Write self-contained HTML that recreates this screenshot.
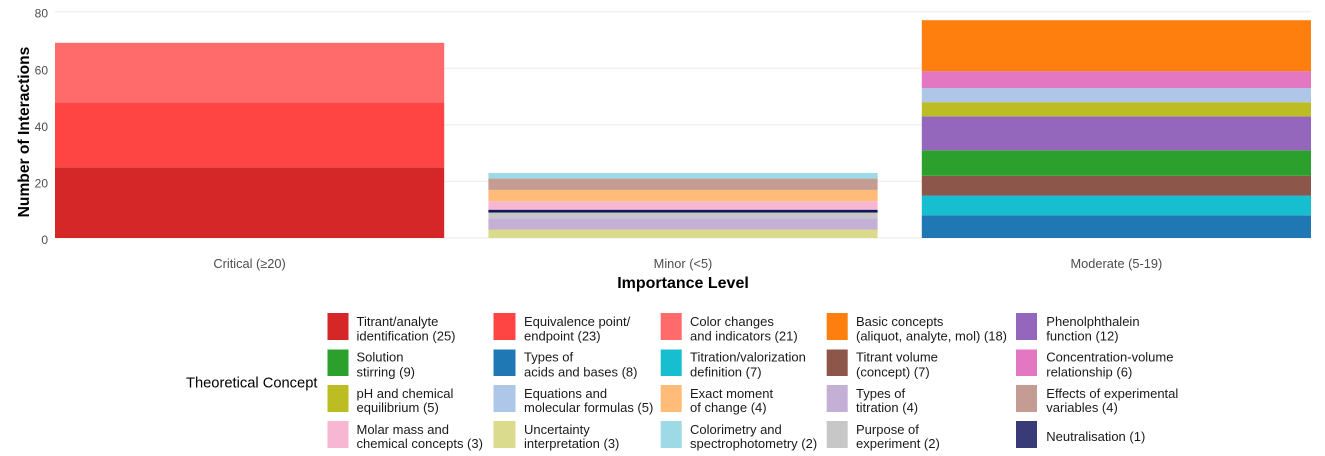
<!DOCTYPE html>
<html lang="en">
<head>
<meta charset="utf-8">
<title>Interactions by Importance Level</title>
<style>
html,body{margin:0;padding:0;background:#fff;width:1325px;height:456px;overflow:hidden}
svg{display:block;font-family:"Liberation Sans",Arial,sans-serif}
.lg{font-size:13px;fill:#1a1a1a}
</style>
</head>
<body>
<svg id="chart" width="1325" height="456" viewBox="0 0 1325 456" xmlns="http://www.w3.org/2000/svg">
  <g id="grid"></g>
  <g id="bars"></g>
  <g id="ticks"></g>
  <text transform="translate(29,132) rotate(-90)" text-anchor="middle" font-size="15.6" font-weight="700" fill="#000">Number of Interactions</text>
  <text x="683" y="288" text-anchor="middle" font-size="16" font-weight="700" fill="#000">Importance Level</text>
  <g>
    <text x="186" y="387.5" font-size="14.7" fill="#000">Theoretical Concept</text>

    <g><rect x="327.5" y="313" width="21" height="27" fill="#d62728"/><text class="lg"><tspan x="356.5" y="326">Titrant/analyte</tspan><tspan x="356.5" y="340.5">identification (25)</tspan></text></g>
    <g><rect x="493.5" y="313" width="22" height="27" fill="#ff4444"/><text class="lg"><tspan x="524" y="326">Equivalence point/</tspan><tspan x="524" y="340.5">endpoint (23)</tspan></text></g>
    <g><rect x="660.7" y="313" width="21" height="27" fill="#ff6b6b"/><text class="lg"><tspan x="690" y="326">Color changes</tspan><tspan x="690" y="340.5">and indicators (21)</tspan></text></g>
    <g><rect x="826.7" y="313" width="21" height="27" fill="#ff7f0e"/><text class="lg"><tspan x="856" y="326">Basic concepts</tspan><tspan x="856" y="340.5">(aliquot, analyte, mol) (18)</tspan></text></g>
    <g><rect x="1016" y="313" width="21" height="27" fill="#9467bd"/><text class="lg"><tspan x="1046.3" y="326">Phenolphthalein</tspan><tspan x="1046.3" y="340.5">function (12)</tspan></text></g>

    <g><rect x="327.5" y="349.5" width="21" height="26.5" fill="#2ca02c"/><text class="lg"><tspan x="356.5" y="361.5">Solution</tspan><tspan x="356.5" y="376.5">stirring (9)</tspan></text></g>
    <g><rect x="493.5" y="349.5" width="22" height="26.5" fill="#1f77b4"/><text class="lg"><tspan x="524" y="361.5">Types of</tspan><tspan x="524" y="376.5">acids and bases (8)</tspan></text></g>
    <g><rect x="660.7" y="349.5" width="21" height="26.5" fill="#17becf"/><text class="lg"><tspan x="690" y="361.5">Titration/valorization</tspan><tspan x="690" y="376.5">definition (7)</tspan></text></g>
    <g><rect x="826.7" y="349.5" width="21" height="26.5" fill="#8c564b"/><text class="lg"><tspan x="856" y="361.5">Titrant volume</tspan><tspan x="856" y="376.5">(concept) (7)</tspan></text></g>
    <g><rect x="1016" y="349.5" width="21" height="26.5" fill="#e377c2"/><text class="lg"><tspan x="1046.3" y="361.5">Concentration-volume</tspan><tspan x="1046.3" y="376.5">relationship (6)</tspan></text></g>

    <g><rect x="327.5" y="385" width="21" height="27" fill="#bcbd22"/><text class="lg"><tspan x="356.5" y="398">pH and chemical</tspan><tspan x="356.5" y="412">equilibrium (5)</tspan></text></g>
    <g><rect x="493.5" y="385" width="22" height="27" fill="#aec7e8"/><text class="lg"><tspan x="524" y="398">Equations and</tspan><tspan x="524" y="412">molecular formulas (5)</tspan></text></g>
    <g><rect x="660.7" y="385" width="21" height="27" fill="#ffbb78"/><text class="lg"><tspan x="690" y="398">Exact moment</tspan><tspan x="690" y="412">of change (4)</tspan></text></g>
    <g><rect x="826.7" y="385" width="21" height="27" fill="#c5b0d5"/><text class="lg"><tspan x="856" y="398">Types of</tspan><tspan x="856" y="412">titration (4)</tspan></text></g>
    <g><rect x="1016" y="385" width="21" height="27" fill="#c49c94"/><text class="lg"><tspan x="1046.3" y="398">Effects of experimental</tspan><tspan x="1046.3" y="412">variables (4)</tspan></text></g>

    <g><rect x="327.5" y="421" width="21" height="27" fill="#f7b6d2"/><text class="lg"><tspan x="356.5" y="434">Molar mass and</tspan><tspan x="356.5" y="448">chemical concepts (3)</tspan></text></g>
    <g><rect x="493.5" y="421" width="22" height="27" fill="#dbdb8d"/><text class="lg"><tspan x="524" y="434">Uncertainty</tspan><tspan x="524" y="448">interpretation (3)</tspan></text></g>
    <g><rect x="660.7" y="421" width="21" height="27" fill="#9edae5"/><text class="lg"><tspan x="690" y="434">Colorimetry and</tspan><tspan x="690" y="448">spectrophotometry (2)</tspan></text></g>
    <g><rect x="826.7" y="421" width="21" height="27" fill="#c7c7c7"/><text class="lg"><tspan x="856" y="434">Purpose of</tspan><tspan x="856" y="448">experiment (2)</tspan></text></g>
    <g><rect x="1016" y="421" width="21" height="27" fill="#393b79"/><text class="lg" x="1046.3" y="441">Neutralisation (1)</text></g>
  </g>
</svg>
<script>
const categories = ['Critical (≥20)', 'Minor (<5)', 'Moderate (5-19)'];
const yTickValues = [0, 20, 40, 60, 80];

const criticalConcepts = ['titrant-analyte', 'equivalence-point', 'color-changes'];
const criticalValues = [25, 23, 21];

const minorConcepts = ['uncertainty', 'types-titration', 'purpose', 'neutralisation', 'molar-mass', 'exact-moment', 'experimental-variables', 'colorimetry'];
const minorValues = [3, 4, 2, 1, 3, 4, 4, 2];

const moderateConcepts = ['acids-bases', 'titration-definition', 'titrant-volume', 'solution-stirring', 'phenolphthalein', 'ph-equilibrium', 'equations', 'concentration-volume', 'basic-concepts'];
const moderateValues = [8, 7, 7, 9, 12, 5, 5, 6, 18];

const conceptColors = {
  'titrant-analyte': '#d62728', 'equivalence-point': '#ff4444', 'color-changes': '#ff6b6b',
  'uncertainty': '#dbdb8d', 'types-titration': '#c5b0d5', 'purpose': '#c7c7c7',
  'neutralisation': '#14145a', 'molar-mass': '#f7b6d2', 'exact-moment': '#ffbb78',
  'experimental-variables': '#c49c94', 'colorimetry': '#9edae5',
  'acids-bases': '#1f77b4', 'titration-definition': '#17becf', 'titrant-volume': '#8c564b',
  'solution-stirring': '#2ca02c', 'phenolphthalein': '#9467bd', 'ph-equilibrium': '#bcbd22',
  'equations': '#aec7e8', 'concentration-volume': '#e377c2', 'basic-concepts': '#ff7f0e'
};

const stackConcepts = [criticalConcepts, minorConcepts, moderateConcepts];
const stackValues = [criticalValues, minorValues, moderateValues];

const NS = 'http://www.w3.org/2000/svg';
const plotLeft = 55, plotRight = 1311, plotBottom = 238, plotTop = 11.7;
const yMax = 80;
const bandCount = categories.length;
const bandStep = (plotRight - plotLeft) / (bandCount - 1 + 0.898);
const barWidth = bandStep * 0.898;

function yScale(v) { return plotBottom - (v / yMax) * (plotBottom - plotTop); }
function xCenter(i) { return plotLeft + barWidth / 2 + i * bandStep; }

const gridLayer = document.getElementById('grid');
const barLayer = document.getElementById('bars');
const tickLayer = document.getElementById('ticks');

yTickValues.forEach(function (t) {
  const line = document.createElementNS(NS, 'line');
  
  
  line.setAttribute('x1', plotLeft);
  line.setAttribute('x2', plotRight);
  line.setAttribute('y1', yScale(t));
  line.setAttribute('y2', yScale(t));
  line.setAttribute('stroke', '#ebebeb');
  line.setAttribute('stroke-width', '1');
  gridLayer.appendChild(line);

  const label = document.createElementNS(NS, 'text');
  
  
  label.setAttribute('x', 48);
  label.setAttribute('y', yScale(t) + 6);
  label.setAttribute('text-anchor', 'end');
  label.setAttribute('font-size', '12');
  label.setAttribute('fill', '#4d4d4d');
  label.textContent = t;
  tickLayer.appendChild(label);
});

categories.forEach(function (cat, i) {
  let running = 0;
  stackConcepts[i].forEach(function (concept, j) {
    const value = stackValues[i][j];
    const top = yScale(running + value);
    const bottom = yScale(running);
    const rect = document.createElementNS(NS, 'rect');
    
    
    rect.setAttribute('x', xCenter(i) - barWidth / 2);
    rect.setAttribute('y', top);
    rect.setAttribute('width', barWidth);
    rect.setAttribute('height', bottom - top);
    rect.setAttribute('fill', conceptColors[concept]);
    barLayer.appendChild(rect);
    running += value;
  });

  const label = document.createElementNS(NS, 'text');
  
  
  label.setAttribute('x', xCenter(i));
  label.setAttribute('y', 268);
  label.setAttribute('text-anchor', 'middle');
  label.setAttribute('font-size', '12.8');
  label.setAttribute('fill', '#4d4d4d');
  label.textContent = cat;
  tickLayer.appendChild(label);
});
</script>
</body>
</html>
